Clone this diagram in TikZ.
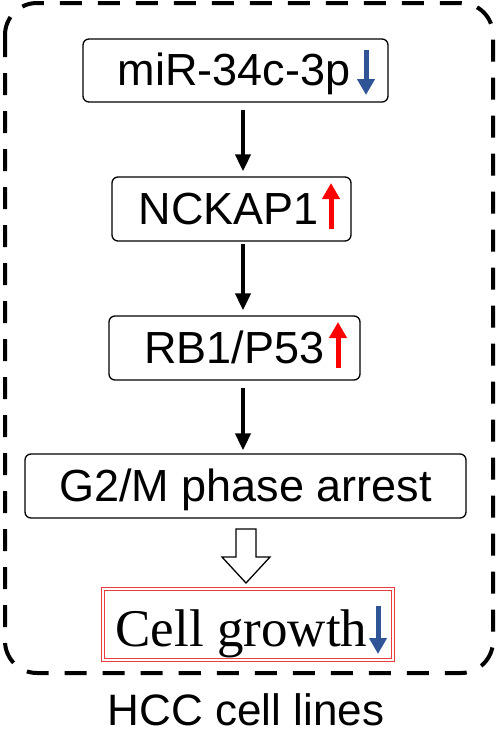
\documentclass[tikz,border=0pt]{standalone}
\usepackage{fontspec}
\setmainfont{Liberation Serif}
\setsansfont{Liberation Sans}
\usetikzlibrary{arrows.meta}
\definecolor{dnblue}{RGB}{47,85,151}
\definecolor{upred}{RGB}{255,0,0}
\definecolor{boxred}{RGB}{235,60,60}
\tikzset{
  stepbox/.style={draw=black, line width=1.3pt, rounded corners=6pt, inner sep=0pt,
    font=\sffamily\fontsize{45}{52}\selectfont, text height=30pt, text depth=0pt},
  flowarr/.style={line width=4pt, -{Triangle[width=15pt,length=17pt]}},
  updown/.style={line width=5pt, -{Triangle[width=17pt,length=16pt]}},
  outline/.style={draw=black, line width=4pt, dash pattern=on 22pt off 16pt, rounded corners=32pt},
}
\begin{document}
\begin{tikzpicture}[x=1pt,y=-1pt]
\useasboundingbox (0,0) rectangle (496,736);
\draw[outline] (5,3) rectangle (493,673);

\node[stepbox, minimum width=305pt, minimum height=63pt] (b1) at (235.5,70.5) {\hspace*{-3pt}miR-34c-3p};
\node[stepbox, minimum width=239pt, minimum height=64pt] (b2) at (231.5,209) {\hspace*{-5pt}NCKAP1};
\node[stepbox, minimum width=251pt, minimum height=64pt] (b3) at (234.5,348) {\hspace*{0pt}RB1/P53};
\node[stepbox, minimum width=441pt, minimum height=64pt] (b4) at (245.5,486) {G2/M phase arrest};
\node[draw=boxred, line width=0.9pt, double=white, double distance=1.6pt, inner sep=0pt,
      minimum width=290pt, minimum height=71pt,
      font=\rmfamily\fontsize{53}{60}\selectfont, text height=43pt, text depth=0pt]
      (b5) at (248,624.5) {\hspace*{-13pt}Cell growth};
\node[font=\sffamily\fontsize{44}{52}\selectfont, anchor=base, inner sep=0pt] (lbl) at (246,725) {HCC cell lines};

\coordinate (ax) at (243,0);
\draw[flowarr, shorten <=7pt, shorten >=5pt] (b1.south -| ax) -- (b2.north -| ax);
\draw[flowarr, shorten <=2pt, shorten >=5pt] (b2.south -| ax) -- (b3.north -| ax);
\draw[flowarr, shorten <=7pt, shorten >=3pt] (b3.south -| ax) -- (b4.north -| ax);

% hollow arrow
\draw[line width=1.3pt, fill=white, line join=miter]
  (236,529) -- (256,529) -- (256,557) -- (270,557) -- (246,583) -- (222,557) -- (236,557) -- cycle;

% up/down indicators
\draw[updown, dnblue] (366,50) -- (366,95);
\draw[updown, upred] (331,229) -- (331,183);
\draw[updown, upred] (338,368) -- (338,322);
\draw[updown, dnblue] (378,606) -- (378,654);
\end{tikzpicture}
\end{document}
